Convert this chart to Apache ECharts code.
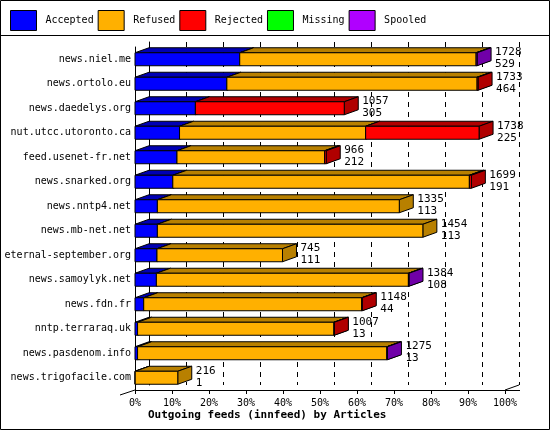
<!DOCTYPE html>
<html><head><meta charset="utf-8">
<script src="https://cdn.jsdelivr.net/npm/echarts@6/dist/echarts.min.js"></script>
<style>html,body{margin:0;padding:0;background:#fff}#c{width:550px;height:430px}</style>
</head><body><div id="c"></div>
<script>
const categories = ['news.niel.me','news.ortolo.eu','news.daedelys.org','nut.utcc.utoronto.ca','feed.usenet-fr.net','news.snarked.org','news.nntp4.net','news.mb-net.net','eternal-september.org','news.samoylyk.net','news.fdn.fr','nntp.terraraq.uk','news.pasdenom.info','news.trigofacile.com'];
const accepted = [529,464,305,225,212,191,113,113,111,108,44,13,13,1];
const refused  = [1194,1264,0,940,746,1498,1222,1341,634,1273,1101,992,1259,215];
const rejected = [0,5,752,573,8,10,0,0,0,0,3,2,0,0];
const missing  = [0,0,0,0,0,0,0,0,0,0,0,0,0,0];
const spooled  = [5,0,0,0,0,0,0,0,0,3,0,0,3,0];
const totals   = [1728,1733,1057,1738,966,1699,1335,1454,745,1384,1148,1007,1275,216];
const axisMax = 1869;
const seriesDefs = [
  ['Accepted', accepted, '#0000ff', '#0000b4'],
  ['Refused', refused, '#ffb000', '#b88000'],
  ['Rejected', rejected, '#ff0000', '#b00000'],
  ['Missing', missing, '#00ff00', '#00b000'],
  ['Spooled', spooled, '#b000ff', '#7000a8']
];
const DX = 14, DY = 5;
const FONT = '"DejaVu Sans Mono", monospace';
const cum = categories.map(() => 0);
const series = seriesDefs.map(([name, vals, front, dark]) => {
  const data = vals.map((v, i) => { const s = cum[i]; cum[i] += v; return [i, s, cum[i]]; });
  return {
    type: 'custom', name, xAxisIndex: 1, yAxisIndex: 1, color: front,
    data: data.filter(d => d[2] > d[1]),
    renderItem: (params, api) => {
      const c = api.value(0), s = api.value(1), e = api.value(2);
      const p0 = api.coord([s, c]), p1 = api.coord([e, c]);
      const h = 13;
      const x0 = p0[0], x1 = p1[0], yt = p0[1] - h / 2, yb = p0[1] + h / 2;
      const st = {stroke: '#000', lineWidth: 1};
      return {type: 'group', children: [
        {type: 'polygon', shape: {points: [[x0, yt], [x0 + DX, yt - DY], [x1 + DX, yt - DY], [x1, yt]]}, style: Object.assign({fill: dark}, st)},
        {type: 'polygon', shape: {points: [[x1, yt], [x1 + DX, yt - DY], [x1 + DX, yb - DY], [x1, yb]]}, style: Object.assign({fill: dark}, st)},
        {type: 'rect', shape: {x: x0, y: yt, width: x1 - x0, height: h}, style: Object.assign({fill: front}, st)}
      ]};
    }
  };
});
series.push({
  type: 'custom', name: 'labels', xAxisIndex: 1, yAxisIndex: 1, silent: true,
  data: categories.map((c, i) => [i, totals[i], accepted[i]]),
  renderItem: (params, api) => {
    const p = api.coord([api.value(1), api.value(0)]);
    return {type: 'text', style: {x: p[0] + DX + 4, y: p[1] - 13, text: api.value(1) + '\n' + api.value(2), font: '11px ' + FONT, fill: '#000', lineHeight: 12}};
  }
});
const chart = echarts.init(document.getElementById('c'));
chart.setOption({
  animation: false,
  textStyle: {fontFamily: FONT},
  legend: {
    data: seriesDefs.map(d => d[0]), top: 10, left: 10, itemWidth: 26, itemHeight: 20, itemGap: 4,
    icon: 'rect', padding: 0,
    textStyle: {fontFamily: FONT, fontSize: 10, color: '#000', width: 70, padding: [0, 0, 0, 4]},
    itemStyle: {borderColor: '#000', borderWidth: 1}
  },
  graphic: [
    {type: 'rect', shape: {x: 0.5, y: 0.5, width: 549, height: 429}, style: {fill: 'none', stroke: '#000', lineWidth: 1}, z: 100},
    {type: 'line', shape: {x1: 0, y1: 35.5, x2: 550, y2: 35.5}, style: {stroke: '#000', lineWidth: 1}},
    {type: 'line', shape: {x1: 120, y1: 395, x2: 135, y2: 390}, style: {stroke: '#000', lineWidth: 1}},
    {type: 'line', shape: {x1: 135, y1: 390.5, x2: 520, y2: 390.5}, style: {stroke: '#000', lineWidth: 1}},
    {type: 'line', shape: {x1: 505, y1: 390, x2: 519, y2: 385}, style: {stroke: '#000', lineWidth: 1}},
    {type: 'text', left: 148, top: 410, style: {text: 'Outgoing feeds (innfeed) by Articles', font: 'bold 11px ' + FONT, fill: '#000'}}
  ],
  grid: [
    {left: 149, right: 31, top: 42, bottom: 45, show: true, borderWidth: 0},
    {left: 135, right: 45, top: 47, bottom: 40}
  ],
  xAxis: [
    {gridIndex: 0, type: 'value', min: 0, max: axisMax, interval: axisMax / 10,
     axisLine: {show: false}, axisTick: {show: false}, axisLabel: {show: false},
     splitLine: {show: true, lineStyle: {color: '#000', type: [5, 5]}}},
    {gridIndex: 1, type: 'value', min: 0, max: axisMax, interval: axisMax / 10,
     axisLine: {show: false}, axisTick: {show: true, length: 4, lineStyle: {color: '#000'}}, splitLine: {show: false},
     axisLabel: {fontFamily: FONT, fontSize: 10, color: '#000', margin: 8, formatter: v => Math.round(v / axisMax * 100) + '%'}}
  ],
  yAxis: [
    {gridIndex: 0, type: 'category', data: categories, inverse: true,
     axisLine: {show: true, lineStyle: {color: '#000'}}, axisTick: {show: false}, axisLabel: {show: false}},
    {gridIndex: 1, type: 'category', data: categories, inverse: true,
     axisLine: {show: true, lineStyle: {color: '#000'}}, axisTick: {show: false},
     axisLabel: {fontFamily: FONT, fontSize: 10, color: '#000', margin: 4}}
  ],
  series
});
</script></body></html>
